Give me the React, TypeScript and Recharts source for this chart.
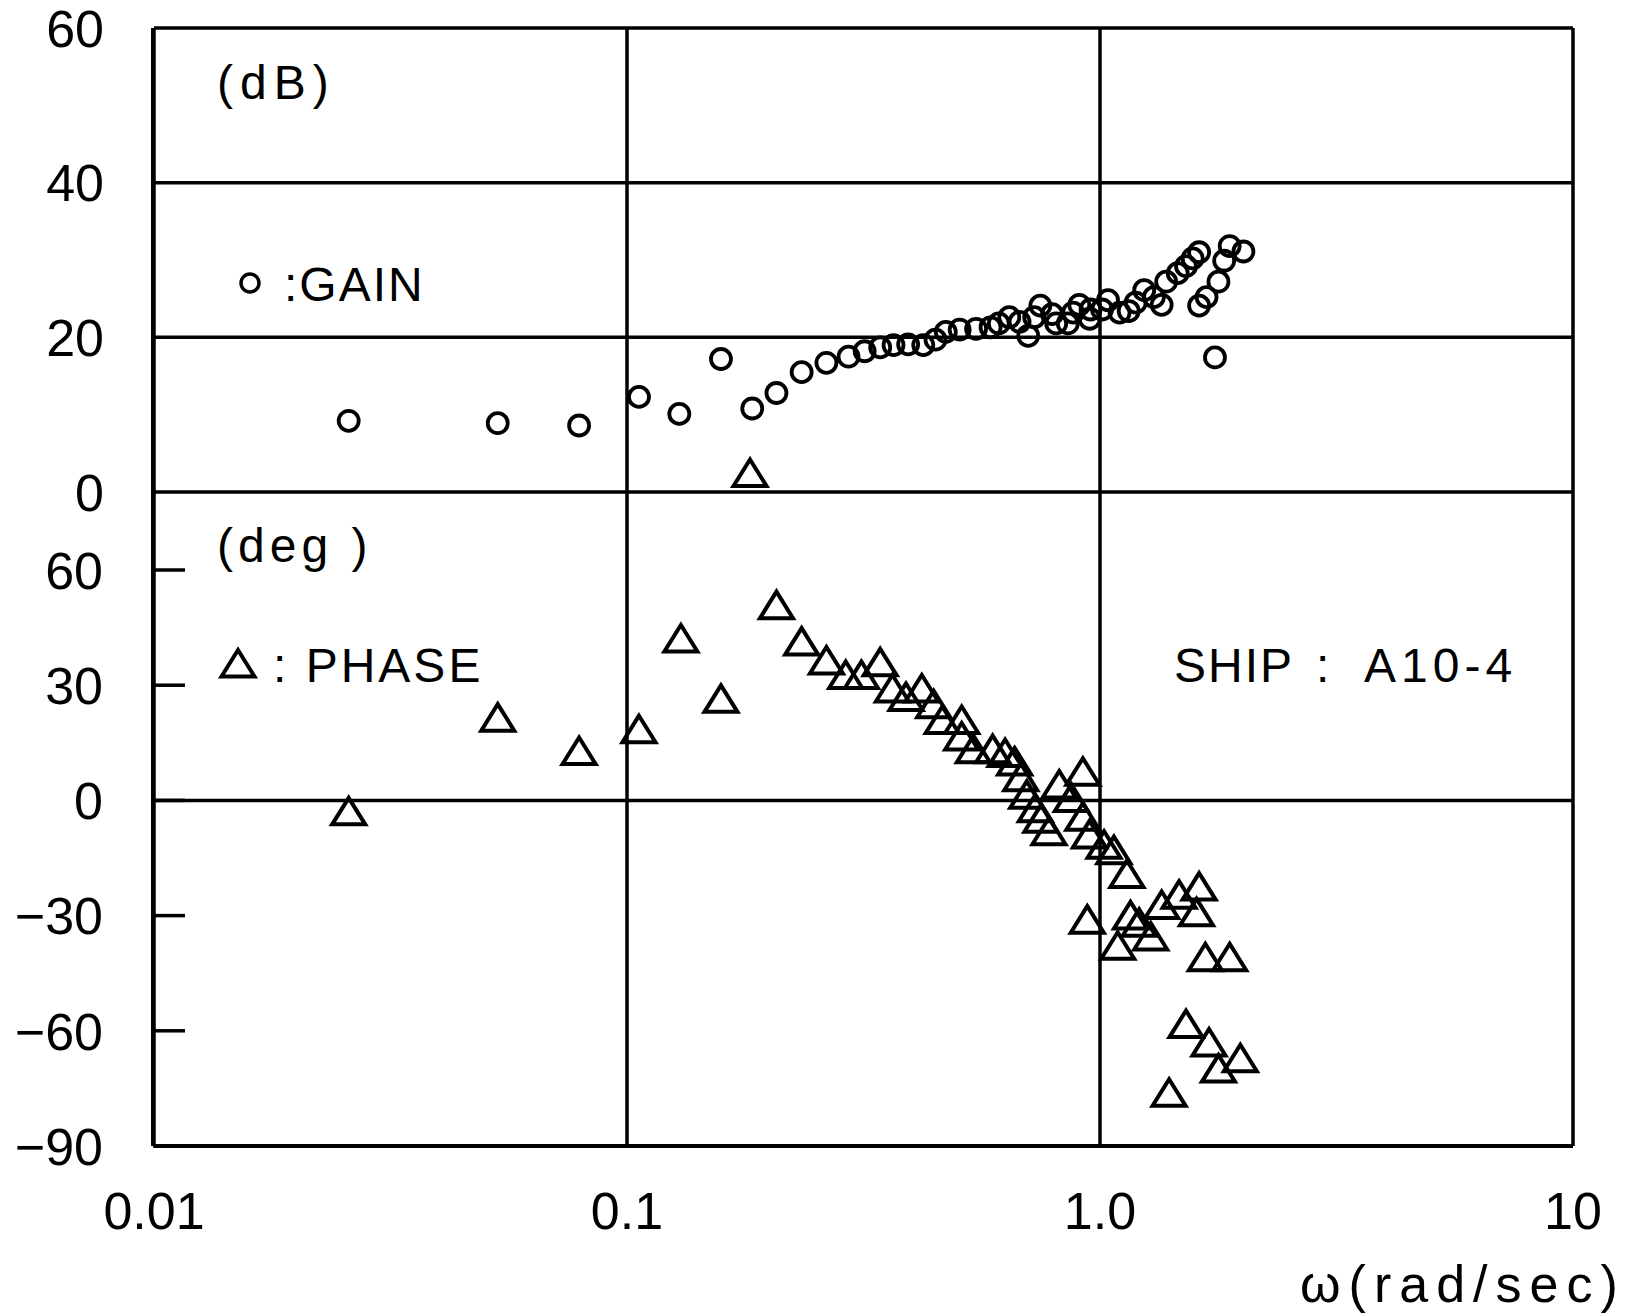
import React from 'react';
import { ScatterChart, Scatter, XAxis, YAxis, CartesianGrid, ReferenceLine } from 'recharts';

const X_TICKS = [0.01, 0.1, 1, 10];
const X_TICK_LABELS = ['0.01', '0.1', '1.0', '10'];
const GAIN_TICKS = [0, 20, 40, 60];
const PHASE_TICKS = [-90, -60, -30, 0, 30, 60];

const GAIN_W = [0.0258, 0.0533, 0.0792, 0.106, 0.129, 0.158, 0.184, 0.207, 0.234, 0.264, 0.294, 0.318, 0.343, 0.366, 0.393, 0.423, 0.449, 0.472, 0.505, 0.547, 0.587, 0.611, 0.643, 0.676, 0.705, 0.726, 0.748, 0.792, 0.808, 0.855, 0.877, 0.904, 0.951, 0.955, 1.01, 1.04, 1.10, 1.15, 1.19, 1.24, 1.30, 1.35, 1.38, 1.46, 1.52, 1.57, 1.62, 1.62, 1.68, 1.75, 1.78, 1.83, 1.88, 2.01];
const GAIN_DB = [9.2, 8.9, 8.6, 12.3, 10.1, 17.2, 10.8, 12.8, 15.5, 16.7, 17.5, 18.2, 18.7, 19.0, 19.1, 19.0, 19.7, 20.7, 21.0, 21.1, 21.3, 21.8, 22.6, 22.0, 20.2, 22.6, 24.1, 23.0, 21.8, 21.8, 23.2, 24.2, 22.4, 23.6, 23.6, 24.8, 23.2, 23.4, 24.5, 26.1, 25.2, 24.2, 27.2, 28.3, 29.2, 30.2, 31.0, 24.1, 25.2, 17.4, 27.2, 29.9, 31.8, 31.1];

const PHASE_W = [0.0258, 0.0533, 0.0792, 0.106, 0.130, 0.158, 0.182, 0.207, 0.234, 0.264, 0.290, 0.313, 0.343, 0.364, 0.389, 0.420, 0.445, 0.464, 0.510, 0.510, 0.540, 0.593, 0.630, 0.660, 0.680, 0.700, 0.730, 0.750, 0.780, 0.820, 0.870, 0.920, 0.920, 0.950, 1.02, 1.07, 1.14, 0.94, 1.09, 1.16, 1.21, 1.28, 1.35, 1.47, 1.60, 1.62, 1.67, 1.88, 1.52, 1.70, 1.78, 1.98, 1.40];
const PHASE_DEG = [-3.5, 20.9, 12.2, 17.9, 41.5, 25.8, 84.6, 50.2, 40.7, 35.8, 32.0, 32.0, 35.3, 28.5, 26.3, 28.5, 24.4, 20.3, 20.3, 16.0, 12.7, 12.7, 11.7, 9.5, 5.4, 0.8, -2.7, -5.4, -8.7, 3.5, 0.0, 6.8, -4.9, -9.5, -12.2, -13.6, -19.8, -31.7, -38.5, -30.6, -32.5, -36.1, -27.9, -25.2, -29.8, -23.1, -41.5, -41.5, -58.9, -63.7, -70.5, -67.8, -76.8];

const gainData = GAIN_W.map((w, i) => ({ w, g: GAIN_DB[i] }));
const phaseData = PHASE_W.map((w, i) => ({ w, p: PHASE_DEG[i] }));

const FONT = "'Liberation Sans', Arial, sans-serif";
const CHART_W = 1633;
const CHART_H = 1314;
const INK = '#000';

const CircleMark = (props: any) => {
  const { cx, cy } = props;
  if (cx == null || cy == null) return null;
  return <circle cx={cx} cy={cy} r={10} fill="none" stroke={INK} strokeWidth={3.8} />;
};

const TriPath = (cx: number, cy: number) =>
  `M${cx},${cy - 16} L${cx - 16.5},${cy + 10.5} L${cx + 16.5},${cy + 10.5} Z`;

const TriMark = (props: any) => {
  const { cx, cy } = props;
  if (cx == null || cy == null) return null;
  return <path d={TriPath(cx, cy)} fill="none" stroke={INK} strokeWidth={4} strokeLinejoin="miter" />;
};

const fmtNum = (v: number) => (v < 0 ? '\u2212' + Math.abs(v) : String(v));

const YTickGain = (props: any) => {
  const { x, y, payload } = props;
  return (
    <text x={x} y={y} dy="0.36em" textAnchor="end" fontFamily={FONT} fontSize={52} fill={INK}>
      {fmtNum(payload.value)}
    </text>
  );
};

const YTickPhase = (props: any) => {
  const { x, y, payload } = props;
  const axisX = x + 50;
  return (
    <g>
      <line x1={axisX} x2={axisX + 32} y1={y} y2={y} stroke={INK} strokeWidth={3.5} />
      <text x={x} y={y} dy="0.36em" textAnchor="end" fontFamily={FONT} fontSize={52} fill={INK}>
        {fmtNum(payload.value)}
      </text>
    </g>
  );
};

const XTick = (props: any) => {
  const { x, y, payload } = props;
  const idx = X_TICKS.indexOf(payload.value);
  const label = idx >= 0 ? X_TICK_LABELS[idx] : String(payload.value);
  return (
    <text x={x} y={y + 83} textAnchor="middle" fontFamily={FONT} fontSize={52} fill={INK}>
      {label}
    </text>
  );
};

export default function App() {
  return (
    <div style={{ position: 'absolute', left: 0, top: 0, width: CHART_W, height: CHART_H, background: '#fff' }}>
      <ScatterChart
        width={CHART_W}
        height={CHART_H}
        margin={{ top: 28, right: 60, left: 152, bottom: 108 }}
      >
        <XAxis
          type="number"
          dataKey="w"
          scale="log"
          domain={[0.01, 10]}
          allowDataOverflow
          ticks={X_TICKS}
          height={60}
          tickLine={false}
          tickSize={0}
          tickMargin={0}
          axisLine={{ stroke: INK, strokeWidth: 4 }}
          tick={(p: any) => <XTick {...p} />}
        />
        <YAxis
          yAxisId="phase"
          type="number"
          dataKey="p"
          orientation="left"
          domain={[-90, 201.15]}
          allowDataOverflow
          ticks={PHASE_TICKS}
          width={1}
          tickLine={false}
          tickSize={0}
          tickMargin={50}
          axisLine={{ stroke: INK, strokeWidth: 4 }}
          tick={(p: any) => <YTickPhase {...p} />}
        />
        <YAxis
          yAxisId="gain"
          type="number"
          dataKey="g"
          orientation="left"
          domain={[-84.57, 60]}
          allowDataOverflow
          ticks={GAIN_TICKS}
          width={1}
          tickLine={false}
          tickSize={0}
          tickMargin={50}
          axisLine={false}
          tick={(p: any) => <YTickGain {...p} />}
        />
        <CartesianGrid
          yAxisId="gain"
          stroke={INK}
          strokeWidth={3.5}
          horizontalValues={GAIN_TICKS}
          verticalValues={X_TICKS}
        />
        <ReferenceLine yAxisId="phase" y={0} stroke={INK} strokeWidth={3.5} />
        <Scatter data={gainData} yAxisId="gain" shape={CircleMark} isAnimationActive={false} />
        <Scatter data={phaseData} yAxisId="phase" shape={TriMark} isAnimationActive={false} />

        <text x={217} y={99} fontFamily={FONT} fontSize={48} letterSpacing={7} fill={INK}>(dB)</text>
        <circle cx={250} cy={283} r={9} fill="none" stroke={INK} strokeWidth={3.5} />
        <text x={284} y={301} fontFamily={FONT} fontSize={48} letterSpacing={2} fill={INK}>:GAIN</text>
        <text x={217} y={562} fontFamily={FONT} fontSize={48} letterSpacing={5} fill={INK}>(deg )</text>
        <path d={TriPath(238, 666)} fill="none" stroke={INK} strokeWidth={4} />
        <text x={273} y={682} fontFamily={FONT} fontSize={48} letterSpacing={3} fill={INK}>:  PHASE</text>
        <text x={1174} y={682} fontFamily={FONT} fontSize={48} letterSpacing={2} fill={INK}>SHIP</text>
        <text x={1316} y={682} fontFamily={FONT} fontSize={48} fill={INK}>:</text>
        <text x={1364} y={682} fontFamily={FONT} fontSize={48} letterSpacing={5} fill={INK}>A10-4</text>
        <text x={1300} y={1302} fontFamily={FONT} fontSize={52} letterSpacing={8} fill={INK}>{'\u03c9(rad/sec)'}</text>
      </ScatterChart>
    </div>
  );
}
